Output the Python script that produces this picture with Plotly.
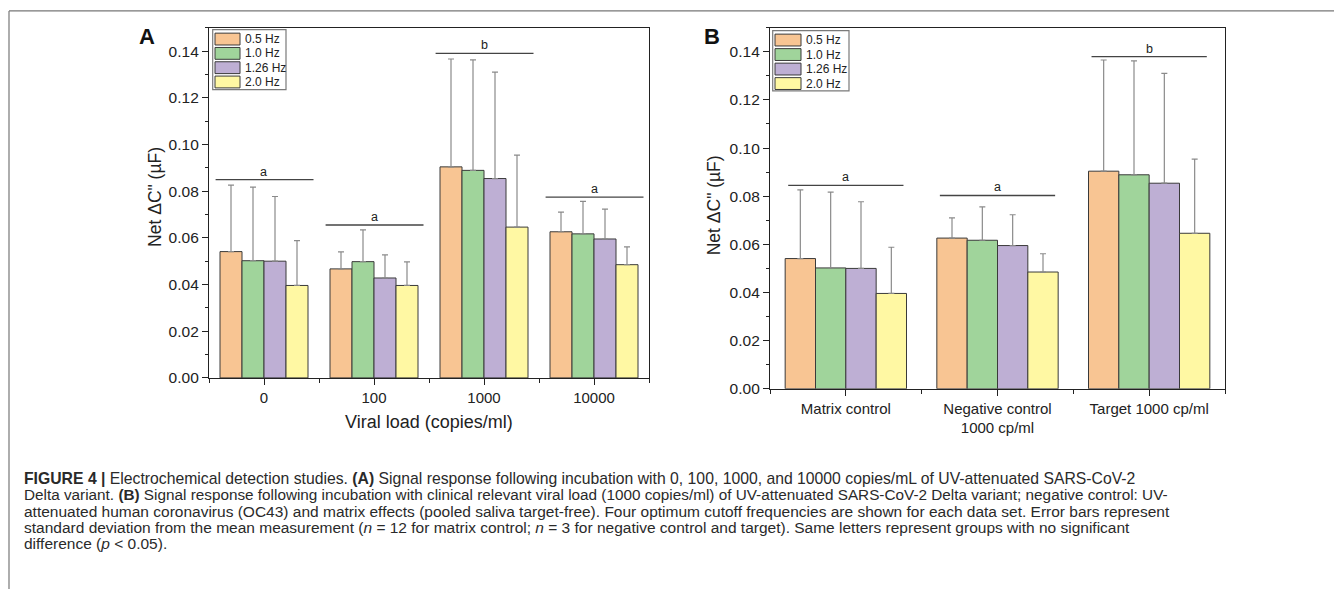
import plotly.graph_objects as go

# ---------------- data ----------------
freq_names = ["0.5 Hz", "1.0 Hz", "1.26 Hz", "2.0 Hz"]
freq_colors = ["#F8C593", "#A0D49B", "#BEAFD4", "#FFF8A3"]

# Panel A: viral load
viral_load = ["0", "100", "1000", "10000"]
a_mean_05 = [0.0541, 0.0467, 0.0904, 0.0626]
a_sd_05 = [0.0285, 0.0073, 0.0462, 0.0084]
a_mean_10 = [0.0502, 0.0498, 0.0889, 0.0617]
a_sd_10 = [0.0315, 0.0136, 0.0473, 0.0139]
a_mean_126 = [0.0500, 0.0428, 0.0854, 0.0595]
a_sd_126 = [0.0277, 0.0099, 0.0456, 0.0128]
a_mean_20 = [0.0396, 0.0396, 0.0646, 0.0485]
a_sd_20 = [0.0192, 0.0101, 0.0308, 0.0076]
a_sig_letters = ["a", "a", "b", "a"]
a_sig_heights = [0.0849, 0.0655, 0.1390, 0.0774]

# Panel B: controls
sample_groups = ["Matrix control", "Negative control<br>1000 cp/ml", "Target 1000 cp/ml"]
b_mean_05 = [0.0541, 0.0626, 0.0904]
b_sd_05 = [0.0285, 0.0084, 0.0462]
b_mean_10 = [0.0502, 0.0617, 0.0889]
b_sd_10 = [0.0315, 0.0139, 0.0473]
b_mean_126 = [0.0500, 0.0595, 0.0854]
b_sd_126 = [0.0277, 0.0128, 0.0456]
b_mean_20 = [0.0396, 0.0485, 0.0646]
b_sd_20 = [0.0192, 0.0076, 0.0308]
b_sig_letters = ["a", "a", "b"]
b_sig_heights = [0.0845, 0.0803, 0.1380]

y_tick_values = [0.00, 0.02, 0.04, 0.06, 0.08, 0.10, 0.12, 0.14]

caption_lines = [
    "<b>FIGURE 4 |</b> Electrochemical detection studies. <b>(A)</b> Signal response following incubation with 0, 100, 1000, and 10000 copies/mL of UV-attenuated SARS-CoV-2",
    "Delta variant. <b>(B)</b> Signal response following incubation with clinical relevant viral load (1000 copies/ml) of UV-attenuated SARS-CoV-2 Delta variant; negative control: UV-",
    "attenuated human coronavirus (OC43) and matrix effects (pooled saliva target-free). Four optimum cutoff frequencies are shown for each data set. Error bars represent",
    "standard deviation from the mean measurement (<i>n</i> = 12 for matrix control; <i>n</i> = 3 for negative control and target). Same letters represent groups with no significant",
    "difference (<i>p</i> &lt; 0.05).",
]

# ---------------- layout helpers ----------------
# the page body has an 8px margin; size the figure so the page is 1342x605
OFF = 8
W, H = 1342 - 2 * OFF, 605 - 2 * OFF
def px(x):
    return (x - OFF) / W
def py(y):
    return 1 - (y - OFF) / H

FONT = "Liberation Sans, Arial, sans-serif"
AXIS_COLOR = "#222222"
ERR_COLOR = "#8a8a8a"

a_means = [a_mean_05, a_mean_10, a_mean_126, a_mean_20]
a_sds = [a_sd_05, a_sd_10, a_sd_126, a_sd_20]
b_means = [b_mean_05, b_mean_10, b_mean_126, b_mean_20]
b_sds = [b_sd_05, b_sd_10, b_sd_126, b_sd_20]

fig = go.Figure()

def add_bars(cats, means, sds, xa, ya):
    xs = list(range(len(cats)))
    for name, color, m, s in zip(freq_names, freq_colors, means, sds):
        fig.add_trace(go.Bar(
            x=xs, y=m, name=name, xaxis=xa, yaxis=ya,
            marker=dict(color=color, line=dict(color="#3a3a3a", width=1)),
            error_y=dict(type="data", array=s, arrayminus=[0] * len(s), symmetric=False,
                         color=ERR_COLOR, thickness=1.2, width=3),
            showlegend=False,
        ))

add_bars(viral_load, a_means, a_sds, "x", "y")
add_bars(sample_groups, b_means, b_sds, "x2", "y2")

def xaxis_cfg(cats, dom):
    n = len(cats)
    return dict(
        domain=dom, range=[-0.5, n - 0.5], tickmode="array",
        tickvals=list(range(n)), ticktext=cats,
        ticks="outside", ticklen=6, tickwidth=1.2, tickcolor=AXIS_COLOR,
        showline=True, linecolor=AXIS_COLOR, linewidth=1.3, mirror=True,
        showgrid=False, zeroline=False,
        tickfont=dict(family=FONT, size=15, color="#222"),
        minor=dict(tickmode="array", tickvals=[i - 0.5 for i in range(n + 1)],
                   ticks="outside", ticklen=4, tickwidth=1.2, tickcolor=AXIS_COLOR, showgrid=False),
        fixedrange=True,
    )

def yaxis_cfg(dom, anchor):
    return dict(
        domain=dom, range=[0, 0.15], anchor=anchor, tickmode="array",
        tickvals=y_tick_values, tickformat=".2f",
        ticks="outside", ticklen=6, tickwidth=1.2, tickcolor=AXIS_COLOR,
        showline=True, linecolor=AXIS_COLOR, linewidth=1.3, mirror=True,
        showgrid=False, zeroline=False,
        tickfont=dict(family=FONT, size=15.5, color="#222"),
        minor=dict(tickmode="linear", tick0=0, dtick=0.01, ticks="outside", ticklen=3,
                   tickwidth=1.2, tickcolor=AXIS_COLOR, showgrid=False),
        fixedrange=True,
    )

A_X = [209, 649]
A_Y = [28, 383]
B_X = [770, 1225]
B_Y = [28, 394]

fig.update_layout(
    width=W, height=H,
    margin=dict(l=0, r=0, t=0, b=0),
    paper_bgcolor="white", plot_bgcolor="white",
    barmode="group", bargap=0.2, bargroupgap=0,
    font=dict(family=FONT, color="#222"),
    xaxis=xaxis_cfg(viral_load, [px(A_X[0]), px(A_X[1])]) | dict(anchor="y"),
    yaxis=yaxis_cfg([py(A_Y[1]), py(A_Y[0])], "x"),
    xaxis2=xaxis_cfg(sample_groups, [px(B_X[0]), px(B_X[1])]) | dict(anchor="y2"),
    yaxis2=yaxis_cfg([py(B_Y[1]), py(B_Y[0])], "x2"),
)

shapes = []
annotations = []

def text_at(x, y, text, size, anchor="center", angle=0, color="#222"):
    annotations.append(dict(xref="paper", yref="paper", x=px(x), y=py(y), text=text,
                            showarrow=False, xanchor=anchor, yanchor="middle", textangle=angle,
                            font=dict(family=FONT, size=size, color=color)))

# significance lines and letters
def add_sig(letters, heights, xref, yref, left, right):
    for i, (letter, h) in enumerate(zip(letters, heights)):
        shapes.append(dict(type="line", xref=xref, yref=yref, x0=i - left, x1=i + right,
                           y0=h, y1=h, line=dict(color="#444", width=1.3)))
        annotations.append(dict(xref=xref, yref=yref, x=i, y=h, text=letter, showarrow=False,
                                xanchor="center", yanchor="bottom", yshift=-1,
                                font=dict(family=FONT, size=12.5, color="#222")))

add_sig(a_sig_letters, a_sig_heights, "x", "y", 0.44, 0.45)
add_sig(b_sig_letters, b_sig_heights, "x2", "y2", 0.38, 0.38)

# manual legends
def add_legend(box, sw_x, txt_x, row0, pitch):
    shapes.append(dict(type="rect", xref="paper", yref="paper",
                       x0=px(box[0]), x1=px(box[2]), y0=py(box[3]), y1=py(box[1]),
                       line=dict(color="#7a7a7a", width=1.2), fillcolor="white", layer="above"))
    for k, (name, color) in enumerate(zip(freq_names, freq_colors)):
        yc = row0 + k * pitch
        shapes.append(dict(type="rect", xref="paper", yref="paper",
                           x0=px(sw_x[0]), x1=px(sw_x[1]), y0=py(yc + 6), y1=py(yc - 6),
                           line=dict(color="#3a3a3a", width=1), fillcolor=color, layer="above"))
        text_at(txt_x, yc, name, 12, anchor="left")

add_legend((212.7, 30, 286, 90.7), (215, 240), 242.5, 39.5, 14.5)
add_legend((772.7, 31, 849, 92), (775, 801), 803.5, 40.5, 14.7)

# panel letters
text_at(147, 37, "<b>A</b>", 22, color="#111")
text_at(712, 37, "<b>B</b>", 22, color="#111")

# axis titles
text_at(155.5, 200, 'Net ΔC" (µF)', 17.5, angle=-90)
text_at(714, 208, 'Net ΔC" (µF)', 17.5, angle=-90)
text_at(429, 428, "Viral load (copies/ml)", 18)

# frame lines
shapes.append(dict(type="line", xref="paper", yref="paper", x0=px(9), x1=1, y0=py(11), y1=py(11),
                   line=dict(color="#777", width=1.2)))
shapes.append(dict(type="line", xref="paper", yref="paper", x0=px(9), x1=px(9), y0=py(11), y1=0,
                   line=dict(color="#777", width=1.2)))

# caption
cap_y = [485, 501.5, 518, 534.5, 551]
cap_size = [15.75, 15.3, 15.5, 15.5, 15.5]
for line, yc, sz in zip(caption_lines, cap_y, cap_size):
    text_at(22, yc, line, sz, anchor="left", color="#2a2a2a")

fig.update_layout(shapes=shapes, annotations=annotations)
fig.write_html("out.html")
